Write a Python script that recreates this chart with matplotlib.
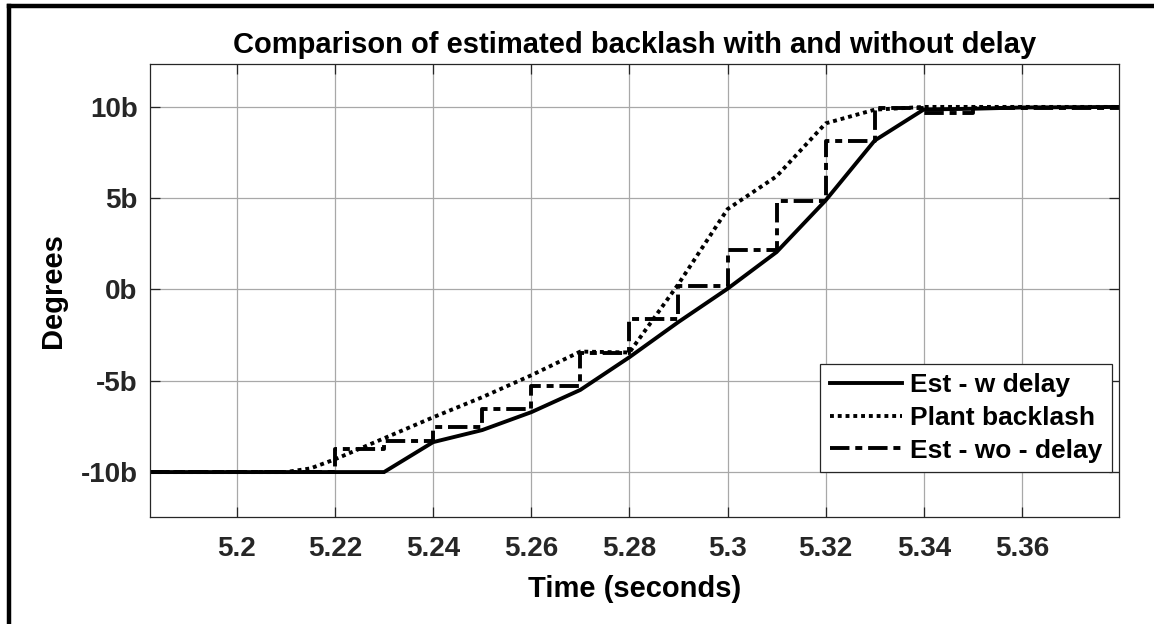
import numpy as np
import matplotlib
matplotlib.use("Agg")
import matplotlib.pyplot as plt
from matplotlib.lines import Line2D

plt.rcParams['font.family'] = ['Liberation Sans', 'DejaVu Sans']
plt.rcParams['font.weight'] = 'bold'

# Estimated backlash, with delay (sampled, linearly joined)
t_est = [5.1823, 5.23, 5.24, 5.25, 5.26, 5.27, 5.28, 5.29, 5.30, 5.31, 5.32, 5.33, 5.34, 5.35, 5.36, 5.38]
est_delay = [-10.0, -10.0, -8.36, -7.7, -6.72, -5.5, -3.71, -1.78, 0.04, 2.05, 4.88, 8.16, 9.86, 9.9, 9.97, 10.0]

# Plant backlash
t_plant = [5.1823, 5.21, 5.215, 5.22, 5.23, 5.24, 5.25, 5.26, 5.27, 5.28, 5.29, 5.30, 5.31, 5.32, 5.33, 5.34, 5.38]
plant = [-10.0, -10.0, -9.8, -9.3, -8.15, -7.0, -5.9, -4.7, -3.4, -3.45, 0.3, 4.4, 6.2, 9.1, 9.85, 10.0, 10.0]

# Estimated backlash without delay (zero-order hold)
t_hold = [5.1823, 5.22, 5.23, 5.24, 5.25, 5.26, 5.27, 5.28, 5.29, 5.30, 5.31, 5.32, 5.33, 5.34, 5.35, 5.38]
est_nodelay = [-10.0, -8.76, -8.3, -7.55, -6.57, -5.31, -3.5, -1.6, 0.17, 2.17, 4.87, 8.16, 9.95, 9.65, 9.95, 9.95]

x_ticks = [5.20, 5.22, 5.24, 5.26, 5.28, 5.30, 5.32, 5.34, 5.36]
x_tick_labels = ['5.2', '5.22', '5.24', '5.26', '5.28', '5.3', '5.32', '5.34', '5.36']
y_ticks = [-10, -5, 0, 5, 10]
y_tick_labels = ['-10b', '-5b', '0b', '5b', '10b']

fig = plt.figure(figsize=(11.54, 6.24), dpi=100)
ax = fig.add_axes([0.13, 0.1715, 0.8397, 0.7259])

LW = 2.8
ax.plot(t_est, est_delay, color='black', lw=LW, solid_joinstyle='miter', label='Est - w delay')
ax.plot(t_plant, plant, color='black', lw=LW, linestyle=(0, (1.0, 1.0)), label='Plant backlash')
ax.step(t_hold, est_nodelay, where='post', color='black', lw=LW,
        linestyle=(0, (5.0, 1.5, 1.8, 1.5)), label='Est - wo - delay')

ax.set_xlim(5.1823, 5.3798)
ax.set_ylim(-12.46, 12.35)
ax.set_xticks(x_ticks)
ax.set_xticklabels(x_tick_labels)
ax.set_yticks(y_ticks)
ax.set_yticklabels(y_tick_labels)

ax.grid(True, color='#a8a8a8', lw=0.9)
ax.set_axisbelow(True)
for s in ax.spines.values():
    s.set_color('#262626')
    s.set_linewidth(0.9)
ax.tick_params(direction='in', length=7, width=0.9, color='#262626',
               top=True, right=True, labelsize=20, labelcolor='#262626')
ax.tick_params(axis='x', pad=14)
ax.tick_params(axis='y', pad=9)

ax.set_title('Comparison of estimated backlash with and without delay',
             fontsize=21, fontweight='bold', pad=8)
ax.set_xlabel('Time (seconds)', fontsize=21, fontweight='bold', labelpad=9)
ax.set_ylabel('Degrees', fontsize=21, fontweight='bold', labelpad=10)

leg = ax.legend(loc='lower right', bbox_to_anchor=(0.9928, 0.0993), fontsize=19,
                frameon=True, fancybox=False, framealpha=1, edgecolor='#262626',
                handlelength=2.76, handletextpad=0.3, borderpad=0.36, labelspacing=0.33,
                borderaxespad=0)
leg.get_frame().set_linewidth(0.9)

# black frame on the left and top of the figure
fig.add_artist(Line2D([0.0078, 0.0078], [0.0, 0.99], transform=fig.transFigure,
                      color='black', lw=3.2, solid_capstyle='projecting'))
fig.add_artist(Line2D([0.0078, 1.0], [0.99, 0.99], transform=fig.transFigure,
                      color='black', lw=3.2, solid_capstyle='projecting'))

fig.savefig('out.png', dpi=100)
